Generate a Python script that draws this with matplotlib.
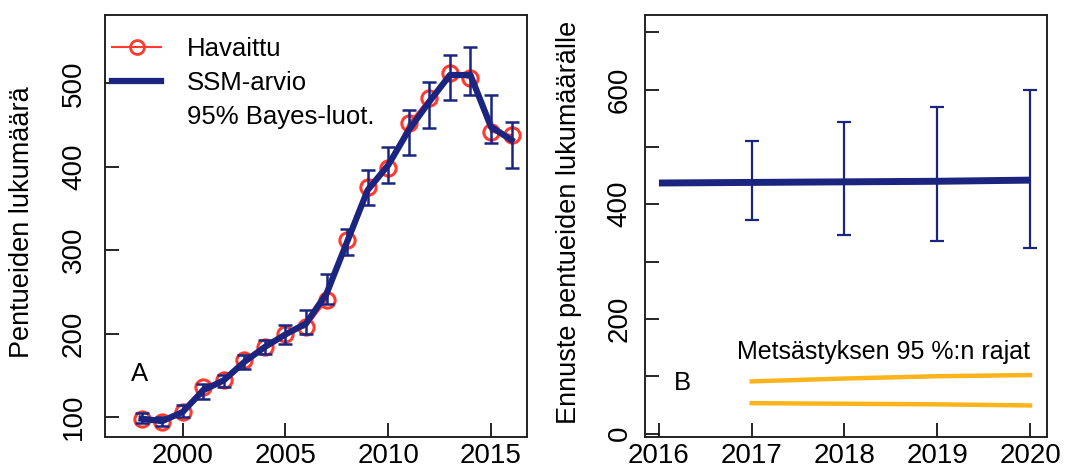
import matplotlib.pyplot as plt
import numpy as np
from matplotlib.lines import Line2D

# Panel A: observed counts and state-space model estimate
years = [1998, 1999, 2000, 2001, 2002, 2003, 2004, 2005, 2006, 2007,
         2008, 2009, 2010, 2011, 2012, 2013, 2014, 2015, 2016]
observed = [98, 94, 106, 136, 144, 168, 184, 200, 208, 240,
            312, 376, 398, 452, 482, 512, 506, 442, 438]
ssm_estimate = [98, 95, 106, 132, 144, 166, 184, 199, 212, 248,
                310, 372, 402, 444, 478, 510, 510, 448, 432]
ssm_lower = [93, 89, 100, 122, 136, 158, 176, 188, 200, 236,
             294, 354, 380, 414, 446, 480, 486, 428, 398]
ssm_upper = [105, 100, 114, 140, 150, 174, 192, 210, 228, 272,
             326, 396, 424, 468, 502, 534, 544, 486, 454]

# Panel B: forecast and hunting limits
forecast_years = [2016, 2017, 2018, 2019, 2020]
forecast = [437, 438, 439, 440, 442]
interval_years = [2017, 2018, 2019, 2020]
interval_mid = [438, 439, 440, 442]
interval_lower = [373, 346, 336, 323]
interval_upper = [510, 544, 569, 600]
hunt_upper = [91, 96, 100, 102]
hunt_lower = [53, 52, 51, 49]

NAVY = "#1B2580"
RED = "#FF3B30"
ORANGE = "#FDB41A"


def style_axes(ax, ylabel_pad):
    for spine in ax.spines.values():
        spine.set_linewidth(1.4)
        spine.set_color("#222222")
    ax.tick_params(direction="in", length=10, width=1.2)
    ax.tick_params(axis="x", pad=4, labelsize=20)
    ax.tick_params(axis="y", pad=ylabel_pad, labelsize=20)
    for label in ax.get_yticklabels():
        label.set_rotation(90)
        label.set_va("center")


def draw_panel_a(ax):
    lower_err = np.array(ssm_estimate) - np.array(ssm_lower)
    upper_err = np.array(ssm_upper) - np.array(ssm_estimate)

    ax.plot(years, observed, color=RED, lw=1.5, marker="o", markersize=11,
            markerfacecolor="none", markeredgewidth=2.2, zorder=2)
    ax.errorbar(years, ssm_estimate, yerr=[lower_err, upper_err], fmt="none",
                ecolor=NAVY, elinewidth=1.8, capsize=5, capthick=1.8, zorder=3)
    ax.plot(years, ssm_estimate, color=NAVY, lw=4.5, zorder=4)

    ax.set_xlim(1996.22, 2016.75)
    ax.set_ylim(76, 582)
    ax.set_xticks([2000, 2005, 2010, 2015])
    ax.set_yticks([100, 200, 300, 400, 500])
    style_axes(ax, 13)

    ax.set_ylabel("Pentueiden lukumäärä", fontsize=19.5, va="center")
    ax.yaxis.set_label_coords(-0.197, 0.51)
    ax.text(0.083, 0.15, "A", transform=ax.transAxes, fontsize=18.5,
            ha="center", va="center")

    handles = [
        Line2D([], [], color=RED, lw=1.5, marker="o", markersize=10,
               markerfacecolor="none", markeredgewidth=2),
        Line2D([], [], color=NAVY, lw=4.5),
        Line2D([], [], color="none"),
    ]
    labels = ["Havaittu", "SSM-arvio", "95% Bayes-luot."]
    ax.legend(handles, labels, loc="upper left", bbox_to_anchor=(0.017, 0.948),
              frameon=False, fontsize=18.5, handlelength=1.9, handletextpad=1.0,
              labelspacing=0.4, borderpad=0, borderaxespad=0)


def draw_panel_b(ax):
    lower_err = np.array(interval_mid) - np.array(interval_lower)
    upper_err = np.array(interval_upper) - np.array(interval_mid)

    ax.plot(forecast_years, forecast, color=NAVY, lw=5, solid_capstyle="butt", zorder=3)
    ax.errorbar(interval_years, interval_mid, yerr=[lower_err, upper_err], fmt="none",
                ecolor=NAVY, elinewidth=1.6, capsize=5, capthick=1.6, zorder=4)
    ax.plot(interval_years, hunt_upper, color=ORANGE, lw=3.2)
    ax.plot(interval_years, hunt_lower, color=ORANGE, lw=3.2)

    ax.set_xlim(2015.85, 2020.18)
    ax.set_ylim(-6, 730)
    ax.set_xticks(forecast_years)
    ax.set_yticks(range(0, 701, 100))
    ax.set_yticklabels(["0", "", "200", "", "400", "", "600", ""])
    style_axes(ax, 9)

    ax.set_ylabel("Ennuste pentueiden lukumäärälle", fontsize=19.5, va="center")
    ax.yaxis.set_label_coords(-0.189, 0.508)
    ax.text(0.593, 0.202, "Metsästyksen 95 %:n rajat", transform=ax.transAxes,
            fontsize=18, ha="center", va="center")
    ax.text(0.092, 0.128, "B", transform=ax.transAxes, fontsize=18.5,
            ha="center", va="center")


def main():
    plt.rcParams["font.family"] = ["Liberation Sans", "DejaVu Sans"]

    fig = plt.figure(figsize=(10.91, 4.70), dpi=100)
    ax_a = fig.add_axes([0.0962, 0.0702, 0.3868, 0.8979])
    ax_b = fig.add_axes([0.5912, 0.0702, 0.3682, 0.8979])

    draw_panel_a(ax_a)
    draw_panel_b(ax_b)

    fig.savefig("out.png", dpi=100)


main()
